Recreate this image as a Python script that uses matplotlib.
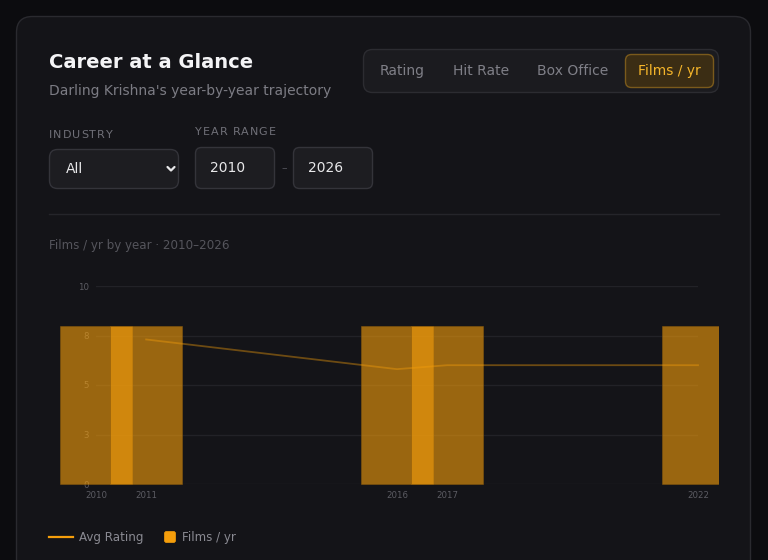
import matplotlib
matplotlib.use("Agg")
import matplotlib.pyplot as plt
from matplotlib.patches import FancyBboxPatch
from matplotlib.transforms import Affine2D, Bbox, TransformedBbox
from matplotlib.lines import Line2D
from matplotlib.font_manager import FontProperties
from matplotlib.textpath import text_to_path
import numpy as np

# ---- data ----
years = [2010, 2011, 2016, 2017, 2022]
films_per_year = [8, 8, 8, 8, 8]
avg_rating = [np.nan, 7.3, 5.8, 6.0, 6.0]
ytick_values = [0, 2.5, 5, 7.5, 10]
ytick_labels = ["0", "3", "5", "8", "10"]
tabs = ["Rating", "Hit Rate", "Box Office", "Films / yr"]

W, H = 768, 560
fig = plt.figure(figsize=(W / 100, H / 100), dpi=100)
fig.patch.set_facecolor("#0c0c0f")
T = Affine2D().scale(1 / 100, -1 / 100).translate(0, H / 100) + fig.dpi_scale_trans

def box(x, y, w, h, r, fc, ec, lw=1.0, z=1):
    p = FancyBboxPatch((x, y), w, h, boxstyle=f"round,pad=0,rounding_size={r}",
                       transform=T, facecolor=fc, edgecolor=ec, linewidth=lw, zorder=z)
    fig.patches.append(p)
    return p

def txt(x, y, s, **kw):
    kw.setdefault("va", "center")
    kw.setdefault("ha", "left")
    kw.setdefault("zorder", 3)
    fig.text(x, y, s, transform=T, **kw)

def spaced(x, y, s, fs, spacing, **kw):
    prop = FontProperties(family="DejaVu Sans", size=fs)
    for i, ch in enumerate(s):
        w, _, _ = text_to_path.get_text_width_height_descent(s[:i], prop, ismath=False) if i else (0, 0, 0)
        px = w * 100 / 72 + spacing * i
        txt(x + px, y, ch, fontsize=fs, **kw)

# card
box(16.5, 16.5, 734, 620, 16, "#141418", "#2a2a2f", 1.0, z=0.5)

# header
txt(49, 63, "Career at a Glance", fontsize=14, fontweight="bold", color="#f4f4f6")
txt(49, 91, "Darling Krishna's year-by-year trajectory", fontsize=10, color="#7c7c84")

# tab group
box(363.5, 49.5, 355, 43, 9, "#1b1b1f", "#2c2c31", 1.0)
tab_x = [402, 481, 573]
for x, s in zip(tab_x, tabs[:3]):
    txt(x, 71, s, fontsize=10, color="#7f7f87", ha="center")
box(625.5, 54.5, 88, 33, 6, "#3b2d14", "#7a5a1c", 1.0)
txt(669.5, 71, tabs[3], fontsize=10, color="#f5b52a", ha="center")

# filters
spaced(49, 135, "INDUSTRY", 8, 1.0, color="#707078")
spaced(195, 132, "YEAR RANGE", 8, 1.0, color="#707078")
box(49.5, 149.5, 129, 39, 8, "#1d1d21", "#34343a", 1.0)
txt(66, 169, "All", fontsize=10, color="#e8e8ea")
fig.lines.append(Line2D([167.5, 171, 174.5], [167, 170.5, 167], transform=T,
                        color="#e8e8ea", linewidth=1.6, solid_capstyle="round", zorder=3))
box(195.5, 147.5, 79, 41, 6, "#1d1d21", "#34343a", 1.0)
txt(210, 168, "2010", fontsize=10, color="#e8e8ea")
txt(284, 168, "–", fontsize=8, color="#55555c", ha="center")
box(293.5, 147.5, 79, 41, 6, "#1d1d21", "#34343a", 1.0)
txt(308, 168, "2026", fontsize=10, color="#e8e8ea")

# divider
fig.lines.append(Line2D([49, 719], [213.5, 213.5], transform=T, color="#25252a", linewidth=1, zorder=2))

txt(49, 246, "Films / yr by year · 2010–2026", fontsize=8.6, color="#55555c")

# chart axes
ax_l, ax_r, ax_t, ax_b = 96, 698, 286, 484
ax = fig.add_axes([ax_l / W, 1 - ax_b / H, (ax_r - ax_l) / W, (ax_b - ax_t) / H])
ax.set_zorder(5)
ax.set_facecolor("none")
ax.set_xlim(2010, 2022)
ax.set_ylim(0, 10)
for s in ax.spines.values():
    s.set_visible(False)
ax.set_yticks(ytick_values)
ax.set_yticklabels(ytick_labels)
ax.set_xticks(years)
ax.set_xticklabels([str(y) for y in years])
ax.tick_params(axis="both", length=0, labelsize=6.2, labelcolor="#5c5c63")
ax.tick_params(axis="y", pad=5)
ax.tick_params(axis="x", pad=5)
ax.grid(axis="y", color="#222227", linewidth=1)
ax.grid(axis="x", visible=False)
ax.set_axisbelow(True)

clip = TransformedBbox(Bbox.from_extents(0.49, 0, 7.19, 5.6), fig.dpi_scale_trans)
bars = ax.bar(years, films_per_year, width=1.44, color="#f59e0b", alpha=0.6,
              edgecolor="#8a5a0c", linewidth=0.6, zorder=3)
for b in bars:
    b.set_clip_on(True)
    b.set_clip_box(clip)

ax.plot(years, avg_rating, color="#f59e0b", alpha=0.4, linewidth=1.3, zorder=4, clip_on=False)

# legend
fig.lines.append(Line2D([49, 73], [537, 537], transform=T, color="#f59e0b", linewidth=1.6, zorder=3))
txt(79, 537, "Avg Rating", fontsize=8.6, color="#8a8a92")
box(164.5, 531.5, 11, 11, 2, "#f59e0b", "#f59e0b", 0.5, z=3)
txt(182, 537, "Films / yr", fontsize=8.6, color="#8a8a92")

fig.savefig("out.png", dpi=100, facecolor=fig.get_facecolor())
